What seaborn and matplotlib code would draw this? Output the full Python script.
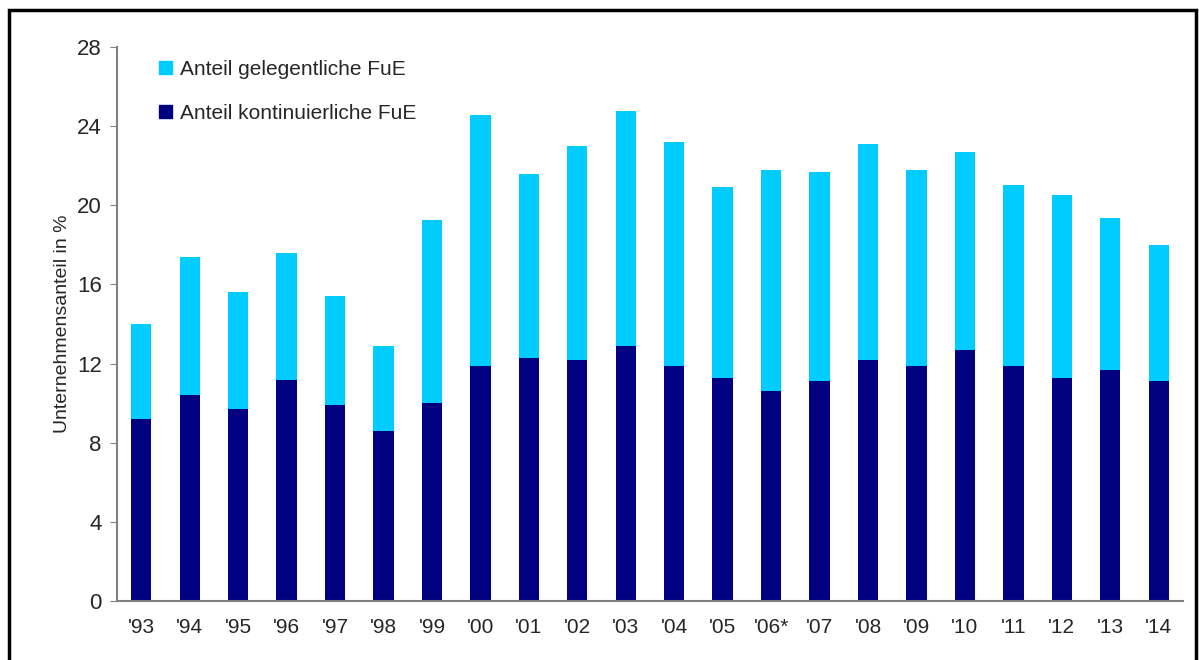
import matplotlib
matplotlib.use("Agg")
import matplotlib.pyplot as plt
import pandas as pd
import seaborn as sns
from matplotlib.patches import Rectangle, Patch

# Data
years = ["'93", "'94", "'95", "'96", "'97", "'98", "'99", "'00", "'01", "'02", "'03",
         "'04", "'05", "'06*", "'07", "'08", "'09", "'10", "'11", "'12", "'13", "'14"]
kontinuierlich = [9.2, 10.4, 9.7, 11.2, 9.9, 8.6, 10.0, 11.9, 12.3, 12.2, 12.9,
                  11.9, 11.3, 10.6, 11.1, 12.2, 11.9, 12.7, 11.9, 11.3, 11.7, 11.1]
gesamt = [14.0, 17.4, 15.6, 17.6, 15.4, 12.9, 19.25, 24.55, 21.6, 23.0, 24.75,
          23.2, 20.9, 21.8, 21.7, 23.1, 21.8, 22.7, 21.0, 20.5, 19.35, 18.0]

CYAN = "#00CCFF"
NAVY = "#000080"

df = pd.DataFrame({"year": years, "kont": kontinuierlich, "total": gesamt})

sns.set_style("white")
plt.rcParams["font.family"] = ["Liberation Sans", "DejaVu Sans"]

fig = plt.figure(figsize=(11.99, 6.60), dpi=100)
ax = fig.add_axes([0.0976, 0.089, 0.889, 0.84])

# total bar (cyan) then continuous share (navy) on top -> stacked look
sns.barplot(data=df, x="year", y="total", color=CYAN, width=0.42, saturation=1,
            linewidth=0, ax=ax)
sns.barplot(data=df, x="year", y="kont", color=NAVY, width=0.42, saturation=1,
            linewidth=0, ax=ax)

ax.set_ylim(0, 28)
ax.set_yticks(range(0, 29, 4))
ax.set_xlim(-0.5, len(years) - 0.5)
ax.set_xlabel("")
ax.set_ylabel("Unternehmensanteil in %", fontsize=14)
ax.tick_params(axis="y", labelsize=16, length=5, color="#808080", direction="out",
               left=True, pad=6)
ax.tick_params(axis="x", labelsize=15, length=0, pad=12)

for side in ["top", "right"]:
    ax.spines[side].set_visible(False)
for side in ["left", "bottom"]:
    ax.spines[side].set_color("#808080")
    ax.spines[side].set_linewidth(1.5)

handles = [Patch(color=CYAN, label="Anteil gelegentliche FuE"),
           Patch(color=NAVY, label="Anteil kontinuierliche FuE")]
ax.legend(handles=handles, loc="upper left", bbox_to_anchor=(0.022, 1.01), frameon=False,
          fontsize=15, handlelength=0.6, handleheight=0.6, labelspacing=1.2, handletextpad=0.4)

# outer frame
fig.patches.append(Rectangle((0.0075, -0.01), 0.99, 0.995, transform=fig.transFigure,
                             fill=False, edgecolor="black", linewidth=2.5))

fig.savefig("out.png", dpi=100)
